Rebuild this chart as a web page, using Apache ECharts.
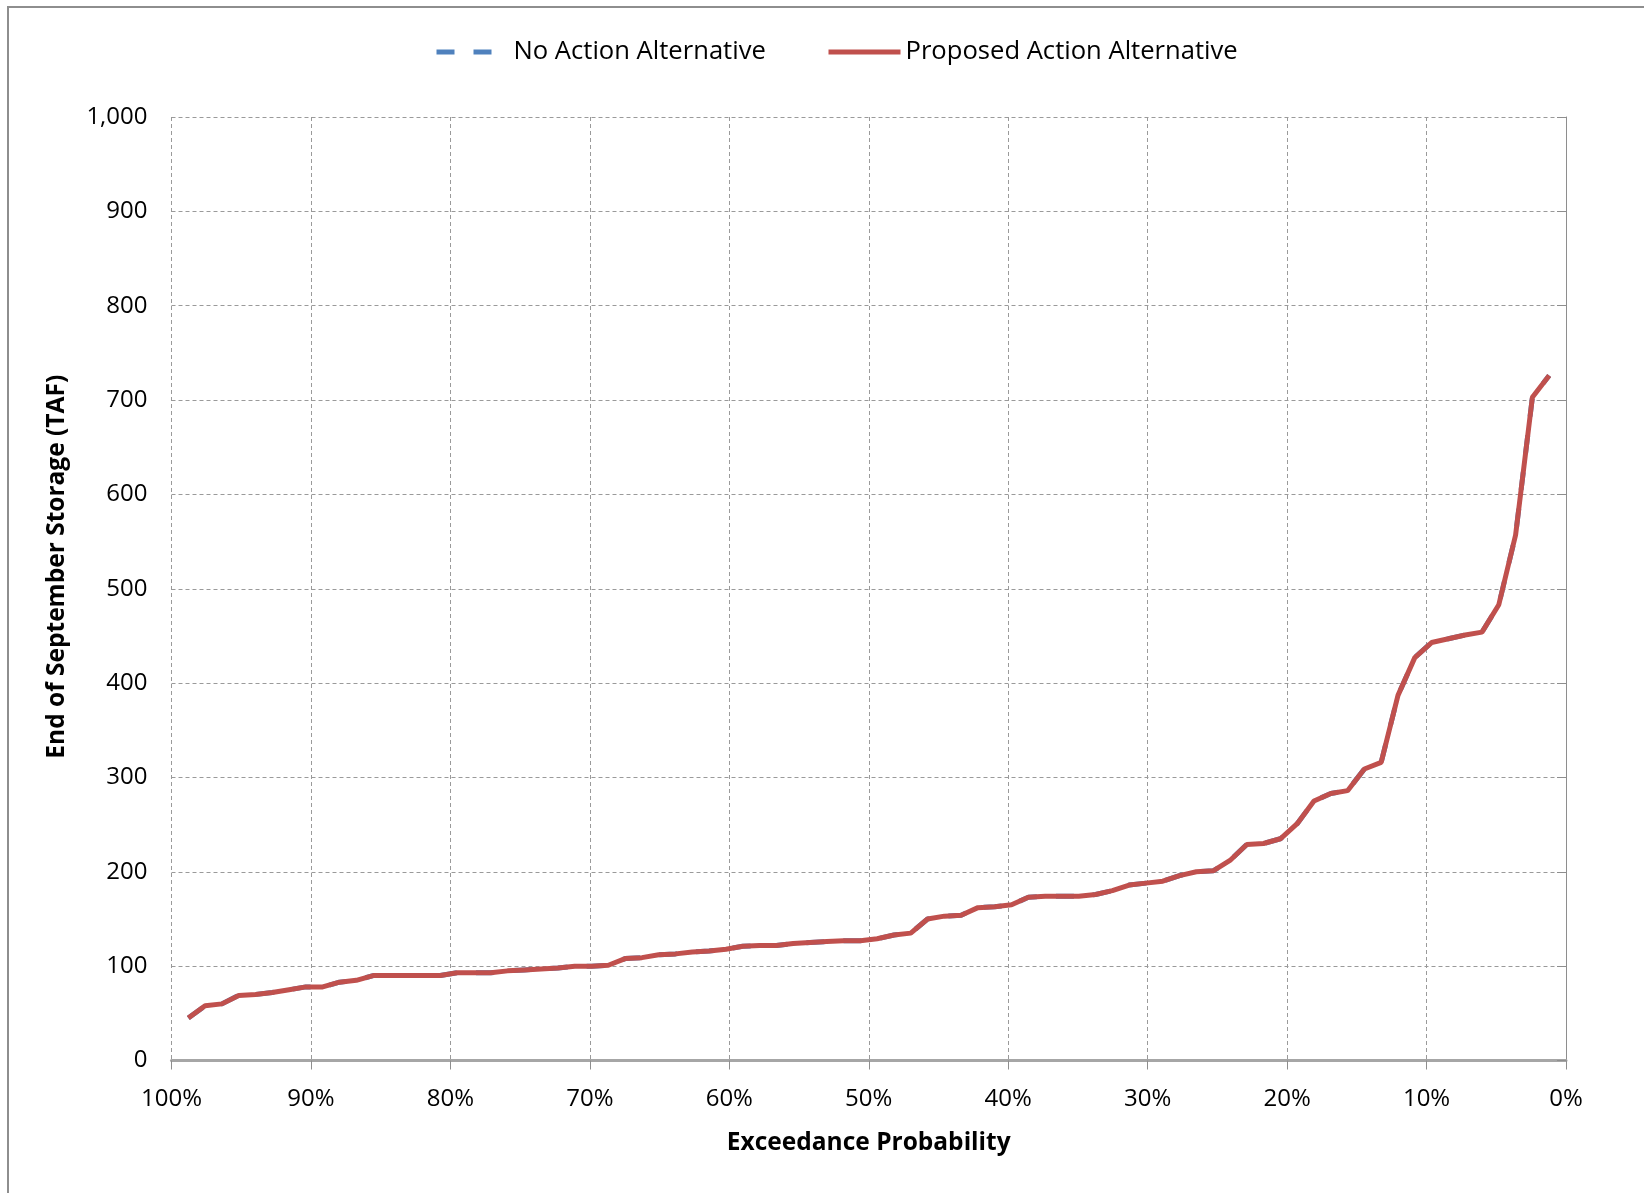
<!DOCTYPE html>
<html>
<head>
<meta charset="utf-8">
<title>End of September Storage – Exceedance</title>
<script src="https://cdn.jsdelivr.net/npm/echarts@6/dist/echarts.min.js"></script>
<style>
  html, body { margin: 0; padding: 0; background: #ffffff; }
  #chart { width: 1644px; height: 1193px; }
</style>
</head>
<body>
<div id="chart"></div>
<script>
// End-of-September storage (TAF), sorted from lowest to highest year
const proposedStorage = [
  45, 58, 60, 69, 70, 72, 75, 78, 78, 83,
  85, 90, 90, 90, 90, 90, 93, 93, 93, 95,
  96, 97, 98, 100, 100, 101, 108, 109, 112, 113,
  115, 116, 118, 121, 122, 122, 124, 125, 126, 127,
  127, 129, 133, 135, 150, 153, 154, 162, 163, 165,
  173, 174, 174, 174, 176, 180, 186, 188, 190, 196,
  200, 201, 212, 229, 230, 235, 251, 275, 283, 286,
  309, 316, 387, 427, 443, 447, 451, 454, 483, 557,
  703, 726
];
// No Action results coincide with the Proposed Action results
const noActionStorage = [
  45, 58, 60, 69, 70, 72, 75, 78, 78, 83,
  85, 90, 90, 90, 90, 90, 93, 93, 93, 95,
  96, 97, 98, 100, 100, 101, 108, 109, 112, 113,
  115, 116, 118, 121, 122, 122, 124, 125, 126, 127,
  127, 129, 133, 135, 150, 153, 154, 162, 163, 165,
  173, 174, 174, 174, 176, 180, 186, 188, 190, 196,
  200, 201, 212, 229, 230, 235, 251, 275, 283, 286,
  309, 316, 387, 427, 443, 447, 451, 454, 483, 557,
  703, 726
];
const seriesNames = ['No Action Alternative', 'Proposed Action Alternative'];
const xTicks = [0, 10, 20, 30, 40, 50, 60, 70, 80, 90, 100];   // percent
const yTicks = [0, 100, 200, 300, 400, 500, 600, 700, 800, 900, 1000];

// Weibull plotting position: exceedance = rank / (n + 1)
function toExceedance(values) {
  const n = values.length;
  return values.map((v, i) => [ (n - i) / (n + 1) * 100, v ]);
}

const FONT = '"Open Sans", "Liberation Sans", sans-serif';
const BLUE = '#4f81bd';
const RED = '#c0504d';
const chart = echarts.init(document.getElementById('chart'), null, { renderer: 'canvas' });

const gridDash = { color: '#9a9a9a', width: 1, type: [4, 3] };

function legendFor(name, left, lineStyle) {
  return {
    data: [name],
    left: left, top: 34,
    itemWidth: 72, itemHeight: 28,
    itemStyle: { opacity: 0 },
    lineStyle: Object.assign({ width: 5, cap: 'butt' }, lineStyle),
    textStyle: { fontFamily: FONT, fontSize: 25.6, color: '#000' }
  };
}

chart.setOption({
  backgroundColor: '#ffffff',
  animation: false,
  textStyle: { fontFamily: FONT, color: '#000000' },
  graphic: [{
    type: 'rect',
    shape: { x: 8, y: 7, width: 1700, height: 1300 },
    style: { fill: 'none', stroke: '#8e8e8e', lineWidth: 2 },
    silent: true
  }],
  legend: [
    legendFor(seriesNames[0], 429, { color: BLUE, type: [18, 19] }),
    legendFor(seriesNames[1], 821, { color: RED, type: 'solid' })
  ],
  grid: {
    left: 171.5, right: 78, top: 117, bottom: 132.5,
    outerBoundsMode: 'none', containLabel: false
  },
  xAxis: {
    type: 'value',
    inverse: true,
    min: xTicks[0], max: xTicks[xTicks.length - 1], interval: 10,
    name: 'Exceedance Probability',
    nameLocation: 'middle',
    nameGap: 70,
    nameTextStyle: { fontFamily: FONT, fontSize: 24.5, fontWeight: 'bold', color: '#000' },
    axisLine: { show: true, onZero: false, lineStyle: { color: '#a6a6a6', width: 3 } },
    axisTick: { show: true, length: 9, lineStyle: { color: '#8e8e8e', width: 1 } },
    axisLabel: {
      margin: 27, fontFamily: FONT, fontSize: 24, color: '#000',
      formatter: v => v + '%'
    },
    splitLine: { show: true, lineStyle: gridDash }
  },
  yAxis: {
    type: 'value',
    min: yTicks[0], max: yTicks[yTicks.length - 1], interval: 100,
    name: 'End of September Storage (TAF)',
    nameLocation: 'middle',
    nameGap: 102,
    nameRotate: 90,
    nameTextStyle: {
      fontFamily: FONT, fontSize: 24.5, fontWeight: 'bold', color: '#000',
      padding: [0, 0, 0, 44]
    },
    axisLine: { show: true, lineStyle: { color: '#8e8e8e', width: 1 } },
    axisTick: { show: true, length: 9, lineStyle: { color: '#8e8e8e', width: 1 } },
    axisLabel: {
      margin: 24, fontFamily: FONT, fontSize: 24, color: '#000',
      formatter: v => v.toLocaleString('en-US')
    },
    splitLine: { show: true, lineStyle: gridDash }
  },
  series: [
    {
      name: seriesNames[0],
      type: 'line',
      data: toExceedance(noActionStorage),
      showSymbol: false, symbol: 'none',
      color: BLUE,
      lineStyle: { color: BLUE, width: 5, type: [18, 19] },
      z: 2
    },
    {
      name: seriesNames[1],
      type: 'line',
      data: toExceedance(proposedStorage),
      showSymbol: false, symbol: 'none',
      color: RED,
      lineStyle: { color: RED, width: 5 },
      z: 3
    }
  ]
});
</script>
</body>
</html>
